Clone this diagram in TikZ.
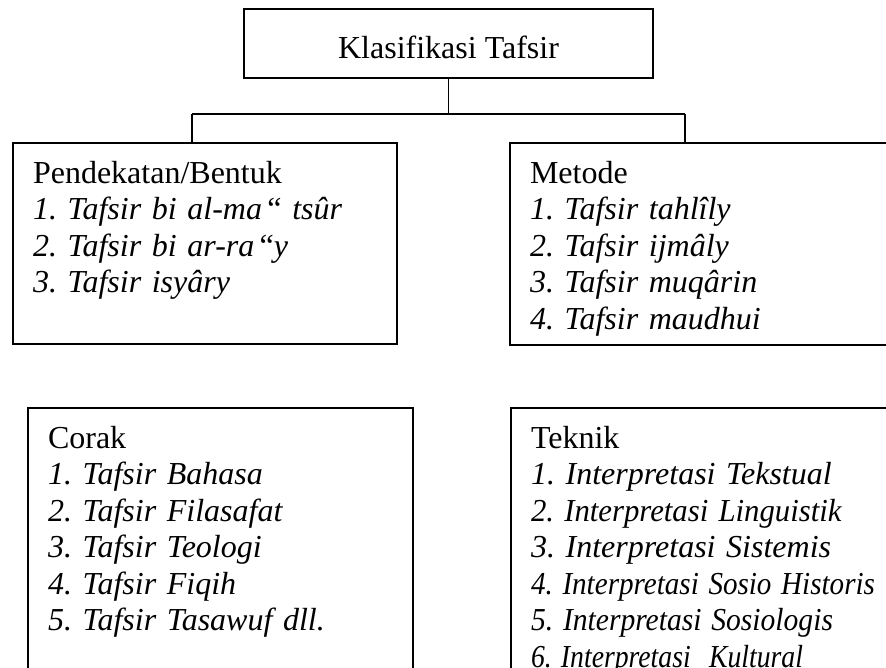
\documentclass[tikz,border=0pt]{standalone}
\usepackage{fontspec}
\usepackage{graphicx}
\setmainfont{Liberation Serif}
\usetikzlibrary{positioning}
\frenchspacing
\newcommand{\rapat}[2]{\resizebox{#1}{\height}{\textit{#2}}}

\begin{document}
\begin{tikzpicture}[x=1pt,y=-1pt,font=\fontsize{32}{36.5}\selectfont,
  kotak/.style={draw,line width=2pt,anchor=north west,inner xsep=20pt,inner ysep=0pt,align=left,text height=40pt},
  garis/.style={line width=1.8pt}]
\clip (0,0) rectangle (886,667);
\node[draw,line width=2pt,minimum width=409pt,minimum height=69pt,text height=29pt,text depth=0pt] (judul) at (448.5,43.5) {Klasifikasi Tafsir};
\node[kotak,text width=344pt,text depth=161pt] (bentuk) at (12,142)
  {Pendekatan/Bentuk\\ \textit{1. Tafsir bi al-ma\,{\upshape “}\ tsûr}\\ \textit{2. Tafsir bi ar-ra\,{\upshape “}y}\\ \textit{3. Tafsir isyâry}};
\node[kotak,text width=380pt,text depth=162pt] (metode) at (509,142)
  {Metode\\ \textit{1. Tafsir tahlîly}\\ \textit{2. Tafsir ijmâly}\\ \textit{3. Tafsir muqârin}\\ \textit{4. Tafsir maudhui}};
\node[kotak,text width=345pt,text depth=260pt] (corak) at (27,407)
  {Corak\\ \textit{1. Tafsir Bahasa}\\ \textit{2. Tafsir Filasafat}\\ \textit{3. Tafsir Teologi}\\ \textit{4. Tafsir Fiqih}\\ \textit{5. Tafsir Tasawuf dll.}};
\node[kotak,text width=380pt,text depth=260pt] (teknik) at (510,407)
  {Teknik\\ \textit{1. Interpretasi Tekstual}\\ \rapat{311pt}{2. Interpretasi Linguistik}\\ \textit{3. Interpretasi Sistemis}\\
   \rapat{344pt}{4. Interpretasi Sosio Historis}\\ \rapat{302pt}{5. Interpretasi Sosiologis}\\ \rapat{272pt}{6. Interpretasi\ \ Kultural}};
\coordinate (cabang) at (judul.south |- 0,114);
\coordinate (kiri) at (192,114);
\coordinate (kanan) at (685,114);
\draw[garis] (judul.south) -- (cabang);
\draw[garis] (kiri) -- (kanan);
\draw[garis] (kiri) -- (kiri |- bentuk.north);
\draw[garis] (kanan) -- (kanan |- metode.north);
\end{tikzpicture}
\end{document}
